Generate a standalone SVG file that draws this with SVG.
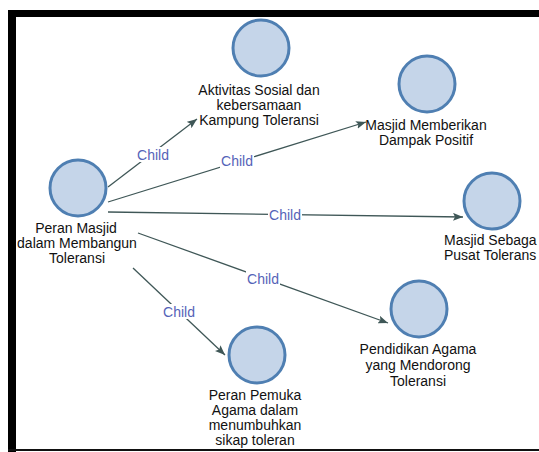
<svg xmlns="http://www.w3.org/2000/svg" width="539" height="452" viewBox="0 0 539 452">
<defs>
<style>
.node{fill:#c5d5e9;stroke:#4f7fb2;stroke-width:3}
.lbl{font-family:"Liberation Sans",Arial,sans-serif;font-size:14px;fill:#111;text-anchor:middle}
.edge{stroke:#3f5757;stroke-width:1.3;fill:none;marker-end:url(#arr)}
.ct{font-family:"Liberation Sans",Arial,sans-serif;font-size:14px;fill:#5563b8;text-anchor:middle}
.cb{fill:#fff}
</style>
<marker id="arr" markerUnits="userSpaceOnUse" markerWidth="11" markerHeight="8" refX="10" refY="4" orient="auto">
<path d="M0,0 L10,4 L0,8 L2,4 z" fill="#3f5757"/>
</marker>
</defs>
<rect x="0" y="0" width="539" height="452" fill="#fff"/>
<g id="frame">
<rect x="8" y="10" width="531" height="7" fill="#000"/>
<rect x="8" y="10" width="8" height="442" fill="#000"/>
<rect x="8" y="449" width="531" height="2" fill="#111"/>
</g>
<g id="connectors">
<line class="edge" x1="108" y1="187" x2="197" y2="119"/>
<line class="edge" x1="108" y1="202" x2="366" y2="122"/>
<line class="edge" x1="108" y1="212" x2="463" y2="217"/>
<line class="edge" x1="138" y1="233" x2="388" y2="323"/>
<line class="edge" x1="133" y1="268" x2="225" y2="355"/>
<rect class="cb" x="136" y="147" width="34" height="15"/>
<text class="ct" x="153" y="160">Child</text>
<rect class="cb" x="220" y="154" width="34" height="15"/>
<text class="ct" x="237" y="166">Child</text>
<rect class="cb" x="268" y="207" width="34" height="15"/>
<text class="ct" x="285" y="220">Child</text>
<rect class="cb" x="246" y="271" width="34" height="15"/>
<text class="ct" x="263" y="284">Child</text>
<rect class="cb" x="162" y="304" width="34" height="15"/>
<text class="ct" x="179" y="317">Child</text>
</g>
<g id="root">
<circle class="node" cx="78" cy="188" r="28"/>
<text class="lbl" x="76" y="233">Peran Masjid</text>
<text class="lbl" x="77" y="248">dalam Membangun</text>
<text class="lbl" x="77" y="263">Toleransi</text>
</g>
<g id="aktivitas">
<circle class="node" cx="261" cy="48" r="28"/>
<text class="lbl" x="259" y="95">Aktivitas Sosial dan</text>
<text class="lbl" x="259" y="110">kebersamaan</text>
<text class="lbl" x="259" y="125">Kampung Toleransi</text>
</g>
<g id="memberikan">
<circle class="node" cx="427" cy="84" r="28"/>
<text class="lbl" x="426" y="130">Masjid Memberikan</text>
<text class="lbl" x="426" y="145">Dampak Positif</text>
</g>
<g id="sebagai">
<circle class="node" cx="492" cy="201" r="28"/>
<text class="lbl" x="444" y="245" style="text-anchor:start">Masjid Sebaga</text>
<text class="lbl" x="444" y="260" style="text-anchor:start">Pusat Tolerans</text>
</g>
<g id="pendidikan">
<circle class="node" cx="419" cy="309" r="28"/>
<text class="lbl" x="418" y="354">Pendidikan Agama</text>
<text class="lbl" x="418" y="370">yang Mendorong</text>
<text class="lbl" x="418" y="386">Toleransi</text>
</g>
<g id="pemuka">
<circle class="node" cx="257" cy="355" r="28"/>
<text class="lbl" x="255" y="400">Peran Pemuka</text>
<text class="lbl" x="255" y="415">Agama dalam</text>
<text class="lbl" x="255" y="430">menumbuhkan</text>
<text class="lbl" x="255" y="445">sikap toleran</text>
</g>
</svg>
